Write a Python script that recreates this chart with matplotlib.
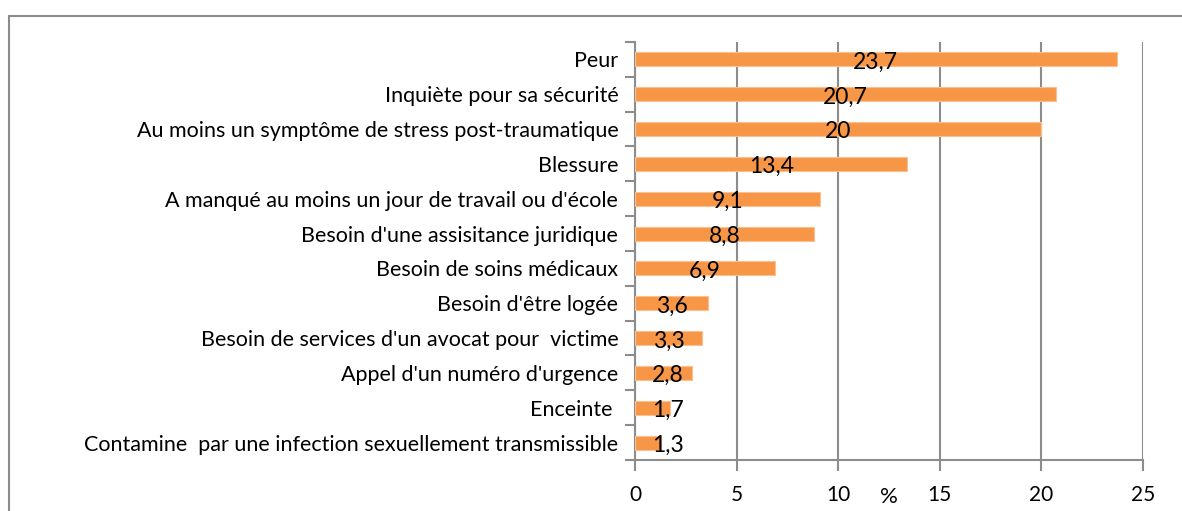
import numpy as np
import matplotlib
matplotlib.use('Agg')
from matplotlib import pyplot as plt
from matplotlib.patches import Rectangle
from matplotlib.ticker import MultipleLocator

categories = [
    'Peur',
    'Inquiète pour sa sécurité',
    'Au moins un symptôme de stress post-traumatique',
    'Blessure',
    "A manqué au moins un jour de travail ou d'école",
    "Besoin d'une assisitance juridique",
    'Besoin de soins médicaux',
    "Besoin d'être logée",
    "Besoin de services d'un avocat pour  victime",
    "Appel d'un numéro d'urgence",
    'Enceinte ',
    'Contamine  par une infection sexuellement transmissible',
]
values = [23.7, 20.7, 20, 13.4, 9.1, 8.8, 6.9, 3.6, 3.3, 2.8, 1.7, 1.3]
labels = ['23,7', '20,7', '20', '13,4', '9,1', '8,8', '6,9', '3,6', '3,3', '2,8', '1,7', '1,3']

plt.rcParams['font.family'] = ['Lato', 'DejaVu Sans']

fig = plt.figure(figsize=(11.82, 5.11), dpi=100)
ax = fig.add_axes([635 / 1182, 1 - 460 / 511, 508 / 1182, 418 / 511])

# frame around the chart (only top and left edges visible)
fig.patches.append(Rectangle((9 / 1182, -0.1), 1.2, 1 - 16 / 511 + 0.1,
                             transform=fig.transFigure, fill=False,
                             edgecolor='#8c8c8c', linewidth=1.5))

y = np.arange(len(categories))
ax.barh(y, values, height=0.4, color='#F79646', edgecolor='#FAC090',
        linewidth=0.8, zorder=3)

for yi, v, lab in zip(y, values, labels):
    ax.text(max(v / 2, 1.6), yi + 0.08, lab, ha='center', va='center',
            fontsize=16.5, color='black', zorder=4)

ax.set_ylim(len(categories) - 0.5, -0.5)
ax.set_xlim(0, 25)
ax.set_yticks(y)
ax.set_yticklabels(categories, fontsize=15.5)
ax.yaxis.set_minor_locator(MultipleLocator(1, offset=0.5))
ax.tick_params(axis='y', which='major', length=0, pad=12)
ax.tick_params(axis='y', which='minor', length=7, color='#8c8c8c', width=1.5)

ax.xaxis.set_major_locator(MultipleLocator(5))
ax.tick_params(axis='x', length=8, color='#8c8c8c', width=1.5, labelsize=15, pad=10)
ax.set_xlabel('%', fontsize=16, labelpad=-13)

ax.grid(axis='x', color='#8c8c8c', linewidth=1.5, zorder=0)
for s in ['top', 'right']:
    ax.spines[s].set_visible(False)
for s in ['left', 'bottom']:
    ax.spines[s].set_color('#8c8c8c')
    ax.spines[s].set_linewidth(1.5)

plt.savefig('out.png', dpi=100)
